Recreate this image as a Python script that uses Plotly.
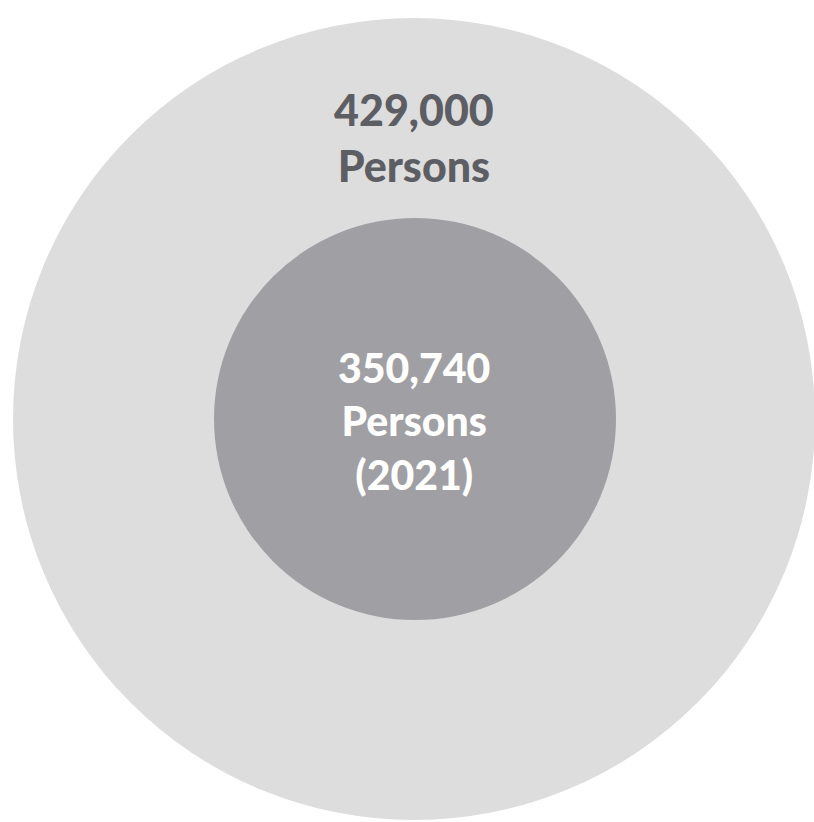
import plotly.graph_objects as go

# Data
labels = ["Persons", "Persons (2021)"]
values = [429000, 350740]
years = [None, 2021]

# Styling / geometry (pixel-like coordinates)
W, H = 814, 822
outer = dict(cx=414, cy=419, r=401, color="#dddddd")
inner = dict(cx=415, cy=419, r=201, color="#a09fa3")

fig = go.Figure()
fig.add_trace(go.Scatter(x=[0, W], y=[0, H], mode="markers",
                         marker=dict(opacity=0), hoverinfo="skip", showlegend=False))

for c in (outer, inner):
    fig.add_shape(type="circle", xref="x", yref="y",
                  x0=c["cx"] - c["r"], x1=c["cx"] + c["r"],
                  y0=c["cy"] - c["r"], y1=c["cy"] + c["r"],
                  fillcolor=c["color"], line=dict(width=0), layer="below")

def fmt(v):
    return f"{v:,}"

outer_text = f"{fmt(values[0])}<br>Persons"
inner_text = f"{fmt(values[1])}<br>Persons<br>({years[1]})"

fig.add_annotation(x=414, y=137, xref="x", yref="y", text=outer_text,
                   showarrow=False, align="center",
                   font=dict(family="Lato", size=43, weight=900, color="#5d5e64"))
fig.add_annotation(x=414, y=421, xref="x", yref="y", text=inner_text,
                   showarrow=False, align="center",
                   font=dict(family="Lato", size=41, weight=900, color="#ffffff"))

fig.update_xaxes(range=[0, W], visible=False, fixedrange=True)
fig.update_yaxes(range=[H, 0], visible=False, fixedrange=True)
fig.update_layout(width=W, height=H, margin=dict(l=0, r=0, t=0, b=0),
                  paper_bgcolor="white", plot_bgcolor="white")

fig.write_html("out.html", config={"displayModeBar": False},
               post_script="document.body.style.margin='0';")
